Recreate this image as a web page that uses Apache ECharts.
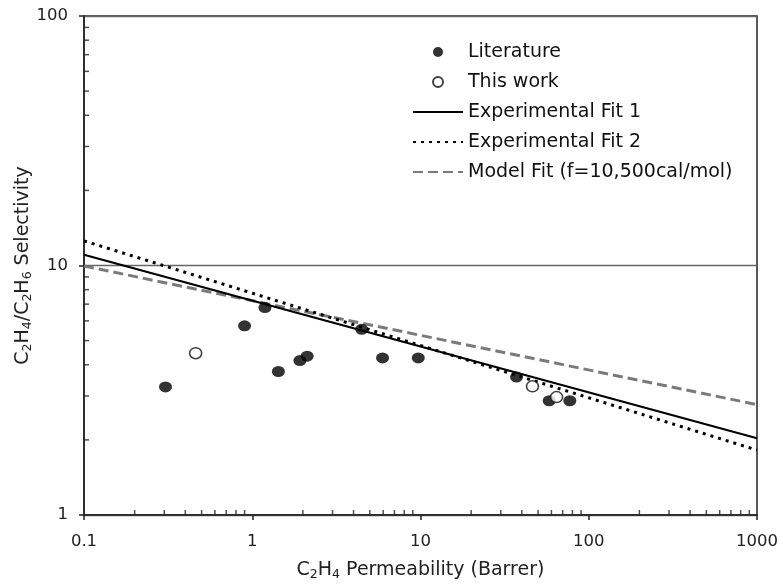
<!DOCTYPE html>
<html>
<head>
<meta charset="utf-8">
<script src="https://cdn.jsdelivr.net/npm/echarts@6/dist/echarts.min.js"></script>
<style>html,body{margin:0;padding:0;background:#fff}#c{width:783px;height:586px}</style>
</head>
<body>
<div id="c"></div>
<script>
// Data
const literature = [[0.305,3.26],[0.90,5.73],[1.19,6.78],[1.43,3.76],[1.92,4.16],[2.12,4.33],[4.47,5.55],[5.95,4.26],[9.7,4.26],[37.2,3.57],[58.2,2.87],[77.2,2.87]];
const thisWork = [[0.461,4.45],[46.3,3.28],[64.4,2.97]];
const fit1 = [[0.1,11.04],[1000,2.03]];
const fit2 = [[0.1,12.55],[1000,1.82]];
const modelFit = [[0.1,9.95],[1000,2.77]];
const xMinorTicks = [0.2,0.3,0.4,0.5,0.6,0.7,0.8,0.9,2,3,4,5,6,7,8,9,20,30,40,50,60,70,80,90,200,300,400,500,600,700,800,900];
const yMinorTicks = [2,3,4,5,6,7,8,9,20,30,40,50,60,70,80,90];
const seriesNames = ['Literature','This work','Experimental Fit 1','Experimental Fit 2','Model Fit (f=10,500cal/mol)'];

const FONT = 'DejaVu Sans';
const chart = echarts.init(document.getElementById('c'), null, {renderer:'canvas'});
const sub = {fontSize: 12.5, fontFamily: FONT, color:'#222', padding:[9,0,0,0]};
const norm = {fontSize: 19, fontFamily: FONT, color:'#222'};

chart.setOption({
  animation: false,
  backgroundColor: '#fff',
  grid: {left: 84, right: 26, top: 16, bottom: 67, show: true, borderColor: '#222', borderWidth: 1.5, backgroundColor: 'transparent'},
  legend: {
    data: [
      {name: seriesNames[0]},
      {name: seriesNames[1]},
      {name: seriesNames[2], itemStyle: {opacity: 0}},
      {name: seriesNames[3], itemStyle: {opacity: 0}},
      {name: seriesNames[4], itemStyle: {opacity: 0}}
    ],
    orient: 'vertical',
    left: 407, top: 37,
    itemWidth: 50, itemHeight: 10, itemGap: 10,
    textStyle: {fontFamily: FONT, fontSize: 19, color: '#111', lineHeight: 20},
    selectedMode: false
  },
  xAxis: {
    type: 'log', logBase: 10, min: 0.1, max: 1000,
    name: '{n|C}{s|2}{n|H}{s|4}{n| Permeability (Barrer)}',
    nameLocation: 'middle', nameGap: 44,
    nameTextStyle: {rich: {n: norm, s: sub}},
    axisLine: {lineStyle: {color: '#222', width: 1.5}},
    axisTick: {show: true, inside: false, length: 5, lineStyle: {color:'#222', width: 1.5}},
    axisLabel: {fontFamily: FONT, fontSize: 16.5, color: '#222', margin: 18, formatter: v => String(v)},
    splitLine: {show: false}
  },
  yAxis: {
    type: 'log', logBase: 10, min: 1, max: 100,
    name: '{n|C}{s|2}{n|H}{s|4}{n|/C}{s|2}{n|H}{s|6}{n| Selectivity}',
    nameLocation: 'middle', nameGap: 50, nameMoveOverlap: false,
    nameTextStyle: {rich: {n: norm, s: sub}},
    axisLine: {lineStyle: {color: '#222', width: 1.5}},
    axisTick: {show: true, inside: false, length: 5, lineStyle: {color:'#222', width: 1.5}},
    axisLabel: {fontFamily: FONT, fontSize: 16.5, color: '#222', margin: 16, formatter: v => String(v)},
    splitLine: {show: true, lineStyle: {color: '#666', width: 1.4}}
  },
  series: [
    {name: 'Literature', type: 'scatter', data: literature, symbol: 'circle', symbolSize: [13,11],
      itemStyle: {color: '#000'}, z: 5},
    {name: 'This work', type: 'scatter', data: thisWork, symbol: 'circle', symbolSize: [12,11],
      itemStyle: {color: '#fff', borderColor: '#111', borderWidth: 1.5}, z: 6},
    {name: 'Experimental Fit 1', type: 'line', data: fit1, symbol: 'none',
      lineStyle: {color: '#000', width: 2.2, type: 'solid'}, itemStyle:{color:'#000'}, z: 3},
    {name: 'Experimental Fit 2', type: 'line', data: fit2, symbol: 'none',
      lineStyle: {color: '#000', width: 3, type: [3,5]}, itemStyle:{color:'#000'}, z: 3},
    {name: 'Model Fit (f=10,500cal/mol)', type: 'line', data: modelFit, symbol: 'none',
      lineStyle: {color: '#7a7a7a', width: 3, type: [10,5]}, itemStyle:{color:'#7a7a7a'}, z: 2},
    {name: 'xMinor', type: 'scatter', data: xMinorTicks.map(v => [v, 1]), silent: true, z: 4, clip: false,
      symbol: 'rect', symbolSize: [1.5, 5], symbolOffset: [0, -2.5], itemStyle: {color: '#222'}},
    {name: 'yMinor', type: 'scatter', data: yMinorTicks.map(v => [0.1, v]), silent: true, z: 4, clip: false,
      symbol: 'rect', symbolSize: [5, 1.5], symbolOffset: [2.5, 0], itemStyle: {color: '#222'}}
  ]
});
</script>
</body>
</html>
